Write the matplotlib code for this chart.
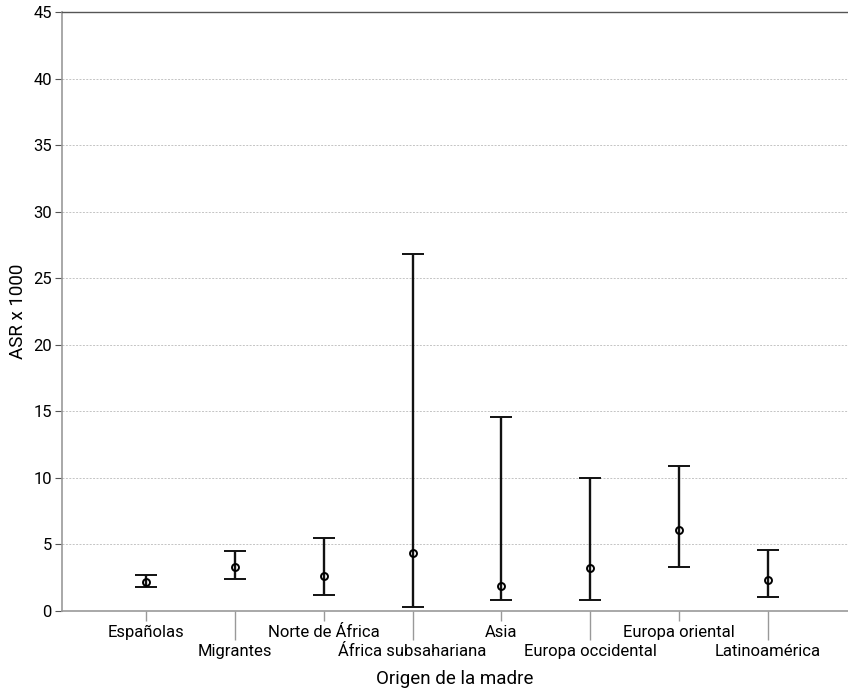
import numpy as np
import matplotlib
matplotlib.use("Agg")
import matplotlib.pyplot as plt

plt.rcParams['font.family'] = ['Roboto', 'DejaVu Sans']

categorias = ["Españolas", "Migrantes", "Norte de África", "África subsahariana",
              "Asia", "Europa occidental", "Europa oriental", "Latinoamérica"]
asr = [2.2, 3.3, 2.65, 4.35, 1.85, 3.2, 6.1, 2.3]
ic_inf = [1.8, 2.4, 1.2, 0.28, 0.8, 0.8, 3.28, 1.08]
ic_sup = [2.7, 4.5, 5.5, 26.85, 14.6, 10.0, 10.9, 4.6]

x = np.arange(len(categorias))
asr = np.array(asr)
err = [asr - np.array(ic_inf), np.array(ic_sup) - asr]

fig = plt.figure(figsize=(8.48, 6.89), dpi=100)
ax = fig.add_axes([61.5 / 848, 1 - 611 / 689, 1 - 61.5 / 848, (611 - 12) / 689])

ax.errorbar(x, asr, yerr=err, fmt='o', color='black', ecolor='#111111',
            elinewidth=1.7, capsize=8, capthick=1.7, markersize=5,
            markerfacecolor='none', markeredgewidth=1.4, zorder=3)

ax.set_ylim(0, 45)
ax.set_xlim(-0.95, 7.9)
ax.set_yticks(np.arange(0, 46, 5))

# etiquetas alternadas: pares arriba (major), impares abajo (minor, tick largo)
ax.set_xticks(x[::2], categorias[::2])
ax.set_xticks(x[1::2], categorias[1::2], minor=True)
ax.tick_params(axis='x', which='major', length=7, pad=3)
ax.tick_params(axis='x', which='minor', length=21, pad=2.5)
ax.tick_params(axis='x', which='both', color='#999999', width=1.0, labelsize=12)

ax.grid(axis='y', color='#c4c4c4', linestyle=(0, (2, 1.5)), linewidth=0.7)
ax.set_axisbelow(True)

for s in ['left', 'bottom']:
    ax.spines[s].set_color('#999999')
    ax.spines[s].set_linewidth(1.2)
ax.spines['top'].set_color('#555555')
ax.spines['top'].set_linewidth(1.0)
ax.spines['right'].set_visible(False)

ax.tick_params(axis='y', length=5, color='#555555', labelsize=12, pad=2)

ax.set_ylabel("ASR x 1000", fontsize=13.5, labelpad=4)
ax.set_xlabel("Origen de la madre", fontsize=13.5, labelpad=8)

fig.savefig("out.png", dpi=100)
